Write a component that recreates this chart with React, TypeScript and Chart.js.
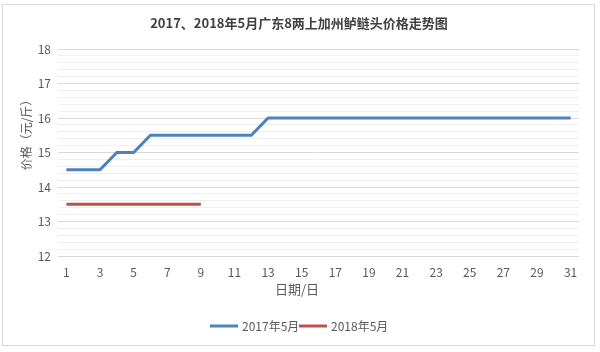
import React, { useEffect, useRef } from "react";
import { Chart, registerables } from "chart.js";

Chart.register(...registerables);

const days: string[] = Array.from({ length: 31 }, (_, i) => String(i + 1));
const series2017: number[] = [
  14.5, 14.5, 14.5, 15, 15, 15.5, 15.5, 15.5, 15.5, 15.5, 15.5, 15.5, 16, 16, 16, 16,
  16, 16, 16, 16, 16, 16, 16, 16, 16, 16, 16, 16, 16, 16, 16,
];
const series2018: number[] = [13.5, 13.5, 13.5, 13.5, 13.5, 13.5, 13.5, 13.5, 13.5];
const seriesNames: string[] = ["2017年5月", "2018年5月"];
const seriesColors: string[] = ["#4F81BD", "#C0504D"];
const titleText = "2017、2018年5月广东8两上加州鲈鲢头价格走势图";
const yTitle = "价格（元/斤）";
const xTitle = "日期/日";
const yMin = 12;
const yMax = 18;

const FONT = "'Noto Sans CJK SC', 'Noto Sans', sans-serif";

export default function App() {
  const ref = useRef<HTMLCanvasElement | null>(null);

  useEffect(() => {
    if (!ref.current) return;
    const decor = {
      id: "decor",
      beforeDraw(chart: any) {
        const c = chart.ctx;
        c.save();
        c.fillStyle = "#ffffff";
        c.fillRect(0, 0, chart.width, chart.height);
        c.restore();
      },
      afterDraw(chart: any) {
        const c = chart.ctx;
        c.save();
        // outer border
        c.strokeStyle = "#D9D9D9";
        c.lineWidth = 1;
        c.strokeRect(2.5, 4.5, 592, 341);
        // title
        c.fillStyle = "#404040";
        c.font = `bold 13px ${FONT}`;
        c.textAlign = "center";
        c.textBaseline = "middle";
        c.fillText(titleText, 299, 23);
        // y title
        c.save();
        c.translate(26, 132);
        c.rotate(-Math.PI / 2);
        c.fillStyle = "#595959";
        c.font = `12px ${FONT}`;
        c.fillText(yTitle, 0, 0);
        c.restore();
        // x title
        c.fillStyle = "#595959";
        c.font = `13px ${FONT}`;
        c.fillText(xTitle, 297, 289);
        // legend
        const items = chart.data.datasets;
        const starts = [210, 299];
        c.font = `12px ${FONT}`;
        c.textAlign = "left";
        items.forEach((ds: any, i: number) => {
          const x0 = starts[i];
          c.strokeStyle = ds.borderColor;
          c.lineWidth = 3;
          c.beginPath();
          c.moveTo(x0, 326);
          c.lineTo(x0 + 28, 326);
          c.stroke();
          c.fillStyle = "#595959";
          c.fillText(ds.label, x0 + 32, 326);
        });
        c.restore();
      },
    };

    const chart = new Chart(ref.current, {
      type: "line",
      data: {
        labels: days,
        datasets: [
          {
            label: seriesNames[0],
            data: series2017,
            borderColor: seriesColors[0],
            backgroundColor: seriesColors[0],
            borderWidth: 3,
            pointRadius: 0,
            tension: 0,
          },
          {
            label: seriesNames[1],
            data: series2018,
            borderColor: seriesColors[1],
            backgroundColor: seriesColors[1],
            borderWidth: 3,
            pointRadius: 0,
            tension: 0,
          },
        ],
      },
      options: {
        animation: false,
        responsive: false,
        maintainAspectRatio: false,
        devicePixelRatio: 1,
        layout: { padding: { top: 49, left: 0, right: 21, bottom: 0 } },
        plugins: {
          legend: { display: false },
          title: { display: false },
          tooltip: { enabled: false },
        },
        scales: {
          x: {
            type: "category",
            offset: true,
            grid: { display: false, drawTicks: false },
            border: { display: false },
            ticks: {
              autoSkip: false,
              maxRotation: 0,
              minRotation: 0,
              padding: 9,
              color: "#595959",
              font: { family: FONT, size: 12 },
              callback: (_v: any, i: number) => (i % 2 === 0 ? days[i] : ""),
            },
            afterFit: (s: any) => {
              s.height = 96;
            },
          },
          y: {
            min: yMin,
            max: yMax,
            border: { display: false },
            grid: {
              drawTicks: false,
              color: (ctx: any) => {
                const v = ctx.tick ? ctx.tick.value : 0;
                return Math.abs(v - Math.round(v)) < 1e-6 ? "#D9D9D9" : "#EFEFEF";
              },
              lineWidth: 1,
            },
            ticks: {
              stepSize: 0.2,
              autoSkip: false,
              padding: 7,
              color: "#595959",
              font: { family: FONT, size: 12 },
              callback: (v: any) => {
                const n = Number(v);
                return Math.abs(n - Math.round(n)) < 1e-6 ? String(Math.round(n)) : "";
              },
            },
            afterFit: (s: any) => {
              s.width = 58;
            },
          },
        },
      },
      plugins: [decor],
    } as any);
    return () => chart.destroy();
  }, []);

  return (
    <div style={{ position: "fixed", left: 0, top: 0, width: 600, height: 352, background: "#fff" }}>
      <canvas ref={ref} width={600} height={352} style={{ width: 600, height: 352, display: "block" }} />
    </div>
  );
}
